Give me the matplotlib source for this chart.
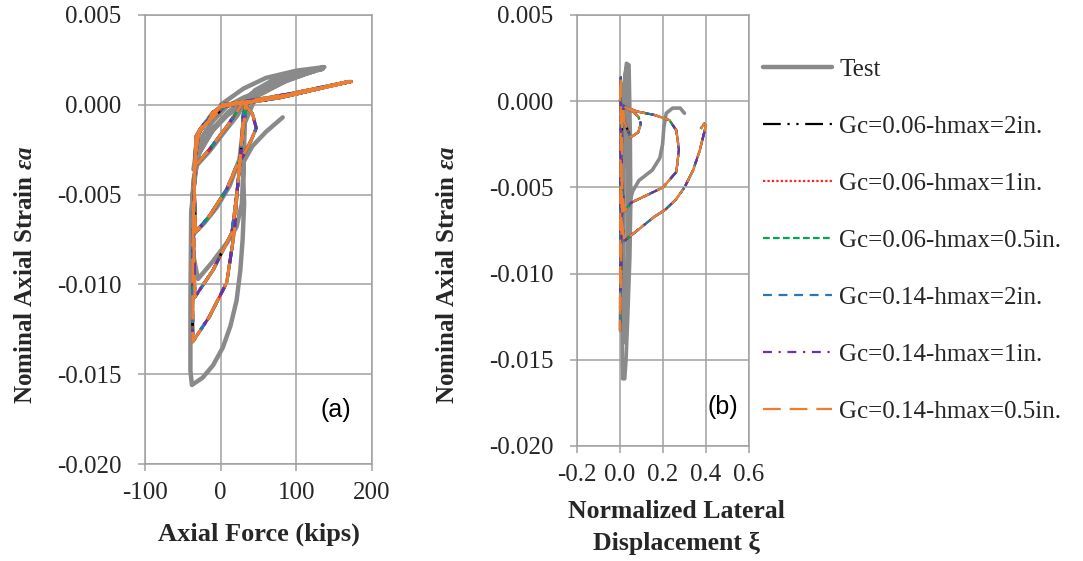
import matplotlib
matplotlib.use("Agg")
import matplotlib.pyplot as plt

# ---------------- data ----------------
# (a) axial force (kips) vs nominal axial strain
force_test_a = [0, 30, 60, 100, 137, 120, 95, 60, 30, 8, -10, -22, -32, -36,
                -28, -15, 5, 22, 30, 45, 70, 105, 135, 100, 60, 30, 10, -12, -28, -36,
                -38, -36, -22, -5, 12, 25, 29, 31, 40, 65, 100, 130, 90, 45, 15, -10, -30, -37,
                -38, -30, -12, 8, 21, 28, 30, 32, 50, 90, 125, 85, 40, 8, -15, -32, -39,
                -40, -40, -38, -24, -10, 3, 13, 21, 26, 29, 31, 30, 30, 42, 60, 82]
strain_test_a = [0.0000, 0.0009, 0.0015, 0.0019, 0.0021, 0.0019, 0.0015, 0.0009, 0.0004, -0.0001, -0.0009, -0.0016, -0.0025, -0.0036,
                 -0.0032, -0.0026, -0.0015, -0.0006, 0.0000, 0.0008, 0.0014, 0.0018, 0.0020, 0.0016, 0.0010, 0.0002, -0.0004, -0.0014, -0.0026, -0.0042,
                 -0.0060, -0.0072, -0.0066, -0.0057, -0.0045, -0.0030, -0.0015, -0.0005, 0.0006, 0.0012, 0.0017, 0.0020, 0.0014, 0.0005, -0.0003, -0.0014, -0.0028, -0.0050,
                 -0.0080, -0.0097, -0.0088, -0.0077, -0.0068, -0.0055, -0.0035, -0.0010, 0.0008, 0.0015, 0.0019, 0.0013, 0.0003, -0.0006, -0.0016, -0.0030, -0.0060,
                 -0.0110, -0.0148, -0.0156, -0.0152, -0.0145, -0.0135, -0.0123, -0.0109, -0.0092, -0.0075, -0.0055, -0.0042, -0.0032, -0.0023, -0.0015, -0.0007]

force_sim_a = [0, 38, 78, 118, 173, 118, 60, 25, 0, -10, -28, -33, -34,
               -15, 10, 29, 60, 120, 170, 100, 40, 5, -25, -33, -35, -33,
               -15, 8, 20, 30, 40, 47, 42, 30, 60, 120, 172, 100, 30, 0, -28, -34, -36, -35, -34,
               -10, 15, 22, 27, 30, 35, 80, 170, 90, 20, 0, -30, -33, -37, -37,
               -15, 8, 18, 22, 28, 33]
strain_sim_a = [0.0000, 0.0002, 0.0004, 0.0008, 0.0013, 0.0008, 0.0003, 0.0001, -0.0001, -0.0004, -0.0014, -0.0018, -0.0034,
                -0.0025, -0.0011, 0.0001, 0.0003, 0.0008, 0.0013, 0.0006, 0.0002, -0.0001, -0.0013, -0.0020, -0.0045, -0.0071,
                -0.0062, -0.0047, -0.0035, -0.0028, -0.0020, -0.0013, -0.0005, 0.0001, 0.0003, 0.0008, 0.0013, 0.0006, 0.0001, -0.0001, -0.0014, -0.0030, -0.0060, -0.0090, -0.0107,
                -0.0092, -0.0071, -0.0047, -0.0025, -0.0005, 0.0001, 0.0004, 0.0013, 0.0006, 0.0001, -0.0001, -0.0016, -0.0022, -0.0080, -0.0132,
                -0.0118, -0.0099, -0.0071, -0.0047, -0.0020, -0.0003]

# (b) normalized lateral displacement vs nominal axial strain
xi_test_b = [0.010, 0.030, 0.042, 0.048, 0.050, 0.046, 0.036, 0.028, 0.022, 0.012, 0.010, 0.010, 0.014,
             0.020, 0.028, 0.036, 0.032, 0.020, 0.015, 0.018, 0.030, 0.042, 0.045,
             0.060, 0.088, 0.150, 0.185, 0.198, 0.204, 0.215, 0.245, 0.280, 0.300]
strain_test_b = [0.0000, 0.0022, 0.0021, -0.0020, -0.0060, -0.0090, -0.0125, -0.0150, -0.0161, -0.0161, -0.0130, -0.0080, -0.0030,
                 0.0010, 0.0019, -0.0030, -0.0100, -0.0140, -0.0090, -0.0040, -0.0010, -0.0030, -0.0058,
                 -0.0052, -0.0046, -0.0040, -0.0033, -0.0025, -0.0015, -0.0007, -0.0004, -0.0004, -0.0007]

xi_sim_b = [0.000, 0.004, 0.003, 0.001, 0.000, 0.005, 0.008, 0.010, 0.030, 0.060, 0.085, 0.097, 0.085, 0.050,
            0.020, 0.015, 0.080, 0.160, 0.230, 0.262, 0.274, 0.262, 0.200, 0.100, 0.050, 0.020,
            0.008, 0.010, 0.020, 0.060, 0.100, 0.160, 0.210, 0.260, 0.300, 0.340, 0.370, 0.390, 0.400, 0.392, 0.375]
strain_sim_b = [0.0000, 0.0014, -0.0020, -0.0070, -0.0133, -0.0100, -0.0050, -0.0002, -0.0004, -0.0006, -0.0009, -0.0013, -0.0018, -0.0021,
                -0.0012, -0.0003, -0.0006, -0.0008, -0.0011, -0.0017, -0.0028, -0.0041, -0.0050, -0.0056, -0.0059, -0.0064,
                -0.0045, -0.0070, -0.0081, -0.0077, -0.0073, -0.0067, -0.0063, -0.0057, -0.0050, -0.0040, -0.0029, -0.0019, -0.0014, -0.0013, -0.0016]

series_labels = ["Test", "Gc=0.06-hmax=2in.", "Gc=0.06-hmax=1in.", "Gc=0.06-hmax=0.5in.",
                 "Gc=0.14-hmax=2in.", "Gc=0.14-hmax=1in.", "Gc=0.14-hmax=0.5in."]

xticks_a = [-100, 0, 100, 200]
xticks_b = [-0.2, 0.0, 0.2, 0.4, 0.6]
yticks = [0.005, 0.000, -0.005, -0.010, -0.015, -0.020]

# ---------------- styles ----------------
test_color = "#8a8a8a"
sim_styles = [
    ("#000000", (0, (8, 3, 1, 3, 1, 3))),
    ("#ff2020", (0, (1, 1))),
    ("#00a651", (0, (3, 1.5))),
    ("#2e75b6", (0, (4, 3))),
    ("#7030a0", (0, (4, 3, 1, 3))),
    ("#ed7d31", (0, (8, 4))),
]
grid_color = "#a0a0a0"
text_color = "#262626"
serif = "Liberation Serif"

plt.rcParams["mathtext.fontset"] = "custom"
plt.rcParams["mathtext.it"] = "Liberation Serif:italic:bold"
plt.rcParams["mathtext.rm"] = "Liberation Serif:bold"
plt.rcParams["mathtext.bf"] = "Liberation Serif:bold"

fig = plt.figure(figsize=(10.83, 5.61), dpi=100)
ax_a = fig.add_axes([0.1339, 0.1729, 0.2096, 0.8004])
ax_b = fig.add_axes([0.5328, 0.2050, 0.1588, 0.7683])


def style_axes(ax, xlim, xticks, xfmt):
    ax.set_xlim(*xlim)
    ax.set_ylim(-0.020, 0.005)
    ax.set_xticks(xticks)
    ax.set_yticks(yticks)
    ax.set_xticklabels([xfmt(v) for v in xticks], fontfamily=serif, fontsize=18, color=text_color)
    ax.set_yticklabels([f"{v:.3f}" for v in yticks], fontfamily=serif, fontsize=18, color=text_color)
    ax.grid(True, color=grid_color, linewidth=1.1)
    ax.set_axisbelow(True)
    for sp in ax.spines.values():
        sp.set_color(grid_color)
        sp.set_linewidth(1.1)
    ax.tick_params(axis="both", direction="out", length=5, width=1.1, color=grid_color)
    ax.tick_params(axis="x", pad=8)
    ax.tick_params(axis="y", pad=12)


def strain_label(ax, x_px):
    ax.set_ylabel(r"Nominal Axial Strain $\it{\varepsilon a}$", fontfamily=serif, fontweight="bold",
                  fontsize=18, color=text_color)
    ax.yaxis.set_label_coords(x_px / 1083, 1 - 275 / 561, transform=fig.transFigure)
    ax.yaxis.label.set_va("center")


# panel (a)
ax_a.plot(force_test_a, strain_test_a, color=test_color, lw=3.2, solid_capstyle="round",
          solid_joinstyle="round", label=series_labels[0])
for (c, ls), lab in zip(sim_styles, series_labels[1:]):
    ax_a.plot(force_sim_a, strain_sim_a, color=c, linestyle=ls, lw=2.2, label=lab)
style_axes(ax_a, (-100, 200), xticks_a, lambda v: f"{v:d}")
ax_a.set_xlabel("Axial Force (kips)", fontfamily=serif, fontweight="bold", fontsize=19,
                color=text_color, labelpad=13)
strain_label(ax_a, 26)
ax_a.text(0.84, 0.12, "(a)", transform=ax_a.transAxes, fontfamily="Liberation Sans",
          fontsize=18, color="#000000", ha="center", va="center")

# panel (b)
ax_b.plot(xi_test_b, strain_test_b, color=test_color, lw=2.6, solid_capstyle="round",
          solid_joinstyle="round", label=series_labels[0])
for (c, ls), lab in zip(sim_styles, series_labels[1:]):
    ax_b.plot(xi_sim_b, strain_sim_b, color=c, linestyle=ls, lw=1.6, label=lab)
style_axes(ax_b, (-0.2, 0.6), xticks_b, lambda v: f"{v:.1f}")
ax_b.set_xlabel("Normalized Lateral\nDisplacement ξ", fontfamily=serif, fontweight="bold",
                fontsize=18.5, color=text_color, linespacing=1.5)
ax_b.xaxis.set_label_coords(0.58, -0.125, transform=ax_b.transAxes)
ax_b.xaxis.label.set_va("top")
strain_label(ax_b, 447)
ax_b.text(0.85, 0.09, "(b)", transform=ax_b.transAxes, fontfamily="Liberation Sans",
          fontsize=18, color="#000000", ha="center", va="center")

# legend
handles, labels = ax_b.get_legend_handles_labels()
leg = fig.legend(handles, labels, loc="upper left", bbox_to_anchor=(0.7045, 0.896),
                 frameon=False, prop={"family": serif, "size": 18}, handlelength=2.75,
                 handletextpad=0.3, labelspacing=1.38, borderpad=0, borderaxespad=0)
for t in leg.get_texts():
    t.set_color(text_color)
leg.get_lines()[0].set_linewidth(3.2)

fig.savefig("out.png", dpi=100)
